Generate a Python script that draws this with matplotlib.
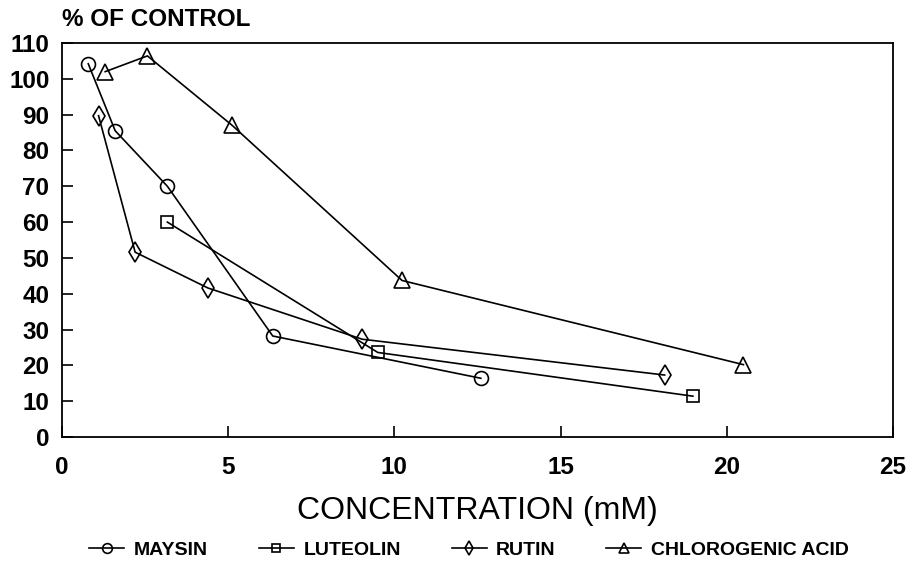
import matplotlib
matplotlib.use("Agg")
import matplotlib.pyplot as plt

plt.rcParams['font.family'] = ['Liberation Sans', 'DejaVu Sans']

# values
maysin_x = [0.79, 1.6, 3.17, 6.34, 12.6]
maysin_y = [104.2, 85.5, 70.0, 28.2, 16.4]
luteolin_x = [3.17, 9.5, 18.98]
luteolin_y = [60.0, 23.6, 11.4]
rutin_x = [1.1, 2.2, 4.39, 9.03, 18.13]
rutin_y = [89.7, 51.6, 41.6, 27.3, 17.3]
chloro_x = [1.3, 2.57, 5.12, 10.23, 20.5]
chloro_y = [102.0, 106.4, 87.0, 43.7, 20.2]

labels = ["MAYSIN", "LUTEOLIN", "RUTIN", "CHLOROGENIC ACID"]
xticks = [0, 5, 10, 15, 20, 25]
yticks = list(range(0, 111, 10))

fig = plt.figure(figsize=(9.11, 5.65), dpi=100)
ax = fig.add_axes([62 / 911, 1 - 437 / 565, 831 / 911, 394 / 565])

style = dict(color='k', linewidth=1.2, markerfacecolor='none',
             markeredgecolor='k', markeredgewidth=1.2)
ax.plot(maysin_x, maysin_y, marker='o', markersize=10, label=labels[0], **style)
ax.plot(luteolin_x, luteolin_y, marker='s', markersize=9, label=labels[1], **style)
ax.plot(rutin_x, rutin_y, marker='d', markersize=10, label=labels[2], **style)
ax.plot(chloro_x, chloro_y, marker='^', markersize=11, label=labels[3], **style)

ax.set_xlim(0, 25)
ax.set_ylim(0, 110)
ax.set_xticks(xticks)
ax.set_yticks(yticks)
ax.tick_params(axis='y', direction='in', length=8, width=1.2, labelsize=17.5, pad=9)
ax.tick_params(axis='x', direction='in', length=8, width=1.2, labelsize=17.5, pad=14)
for t in ax.get_xticklabels() + ax.get_yticklabels():
    t.set_fontweight('bold')
for s in ax.spines.values():
    s.set_linewidth(1.3)

ax.set_xlabel("CONCENTRATION (mM)", fontsize=23, labelpad=12)
fig.text(62 / 911, 1 - 20 / 565, "% OF CONTROL", fontsize=17.5, fontweight='bold',
         ha='left', va='center')

leg = fig.legend(loc='center', bbox_to_anchor=(0.515, 1 - 550 / 565), ncol=4,
                 frameon=False, handlelength=1.8, columnspacing=2.6,
                 handletextpad=0.5, markerscale=0.7,
                 prop={'weight': 'bold', 'size': 14})

fig.savefig("out.png", dpi=100)
